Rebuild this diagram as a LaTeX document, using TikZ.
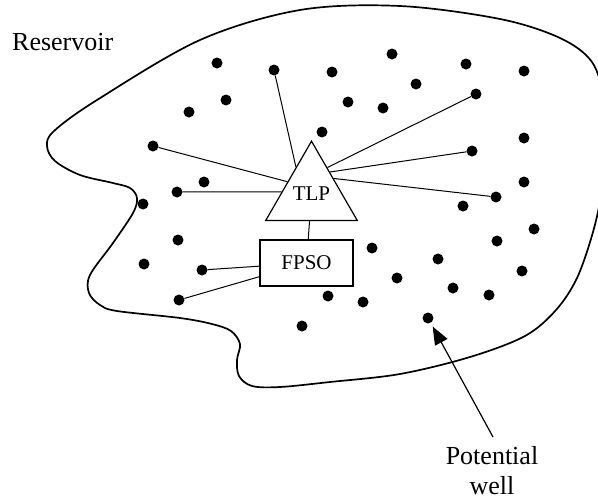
\documentclass[tikz,border=0pt]{standalone}
\usepackage{fontspec}
\setmainfont{Liberation Serif}
\usepackage{tikz}
\usetikzlibrary{shapes.geometric, arrows.meta}
\tikzset{
  welldot/.style={
    circle, fill=black, minimum size=11pt, inner sep=0pt
  },
  platform/.style={
    regular polygon, regular polygon sides=3, draw, line width=1.2pt,
    minimum size=96pt, inner sep=0pt,
    font=\fontsize{21}{25}\selectfont
  },
  vessel/.style={
    rectangle, draw, line width=2.2pt,
    minimum width=93pt, minimum height=46pt, inner sep=0pt,
    font=\fontsize{21}{25}\selectfont
  },
  caption/.style={font=\fontsize{26}{30}\selectfont, inner sep=0pt},
  boundary/.style={line width=1.7pt},
  link/.style={line width=1pt},
  arrow/.style={line width=1.2pt, -{Triangle[length=18pt,width=14pt]}, shorten >=4pt},
}

\begin{document}
\begin{tikzpicture}[x=1pt, y=-1pt]
  \useasboundingbox (0,0) rectangle (598,501);

  % reservoir outline
  \draw [boundary] plot [smooth cycle, tension=0.55] coordinates {
    (300,10) (400,6) (500,19) (560,38) (592,62) (604,100) (606,145)
    (602,190) (593,232) (577,278) (556,310) (525,336) (470,357)
    (400,374) (330,382) (280,387) (252,386) (239,376) (237,360)
    (240,344) (231,331) (212,324) (180,318) (117,311) (100,305)
    (89,293) (90,275) (113,243) (133,213) (137,198) (130,188)
    (113,183) (80,175) (55,161) (47,146) (54,131) (97,100) (200,40)};

  \node (res) [caption, anchor=base west] at (12,50) {Reservoir};

  % platforms
  \node (tlp)  [platform] at (311.5,194) {TLP};
  \node (fpso) [vessel]   at (306.5,263) {FPSO};

  % wells tied back to the TLP
  \node (t1) [welldot] at (274,70)  {};
  \node (t2) [welldot] at (153,146) {};
  \node (t3) [welldot] at (177,192) {};
  \node (t4) [welldot] at (476,94)  {};
  \node (t5) [welldot] at (472,151) {};
  \node (t6) [welldot] at (496,197) {};

  % wells tied back to the FPSO
  \node (f1) [welldot] at (202,270) {};
  \node (f2) [welldot] at (179,300) {};

  % other wells
  \node (w1)  [welldot] at (217,63)  {};
  \node (w2)  [welldot] at (226,100) {};
  \node (w3)  [welldot] at (189,112) {};
  \node (w4)  [welldot] at (204,182) {};
  \node (w5)  [welldot] at (143,204) {};
  \node (w6)  [welldot] at (178,240) {};
  \node (w7)  [welldot] at (144,264) {};
  \node (w8)  [welldot] at (332,72)  {};
  \node (w9)  [welldot] at (392,54)  {};
  \node (w10) [welldot] at (466,64)  {};
  \node (w11) [welldot] at (524,71)  {};
  \node (w12) [welldot] at (416,84)  {};
  \node (w13) [welldot] at (348,102) {};
  \node (w14) [welldot] at (383,108) {};
  \node (w15) [welldot] at (322,132) {};
  \node (w16) [welldot] at (524,138) {};
  \node (w17) [welldot] at (524,182) {};
  \node (w18) [welldot] at (463,206) {};
  \node (w19) [welldot] at (534,229) {};
  \node (w20) [welldot] at (497,241) {};
  \node (w21) [welldot] at (372,248) {};
  \node (w22) [welldot] at (438,259) {};
  \node (w23) [welldot] at (522,271) {};
  \node (w24) [welldot] at (397,278) {};
  \node (w25) [welldot] at (453,288) {};
  \node (w26) [welldot] at (489,295) {};
  \node (w27) [welldot] at (328,296) {};
  \node (w28) [welldot] at (363,302) {};
  \node (w29) [welldot] at (302,326) {};
  \node (w30) [welldot] at (428,318) {};

  \draw [link] (t1) -- (tlp.120);
  \draw [link] (t2) -- (tlp.153);
  \draw [link] (t3) -- (tlp.176);
  \draw [link] (t4) -- (tlp.59);
  \draw [link] (t5) -- (tlp.50);
  \draw [link] (t6) -- (tlp.35);
  \draw [link] (tlp) -- (fpso);
  \draw [link] (f1) -- (fpso);
  \draw [link] (f2) -- (fpso);

  % label for one well
  \node (pot) [caption, align=center, anchor=north] at (492,446) {Potential\\well};
  \coordinate (tail) at (493,437);
  \draw [arrow] (tail) -- (w30);
\end{tikzpicture}
\end{document}
